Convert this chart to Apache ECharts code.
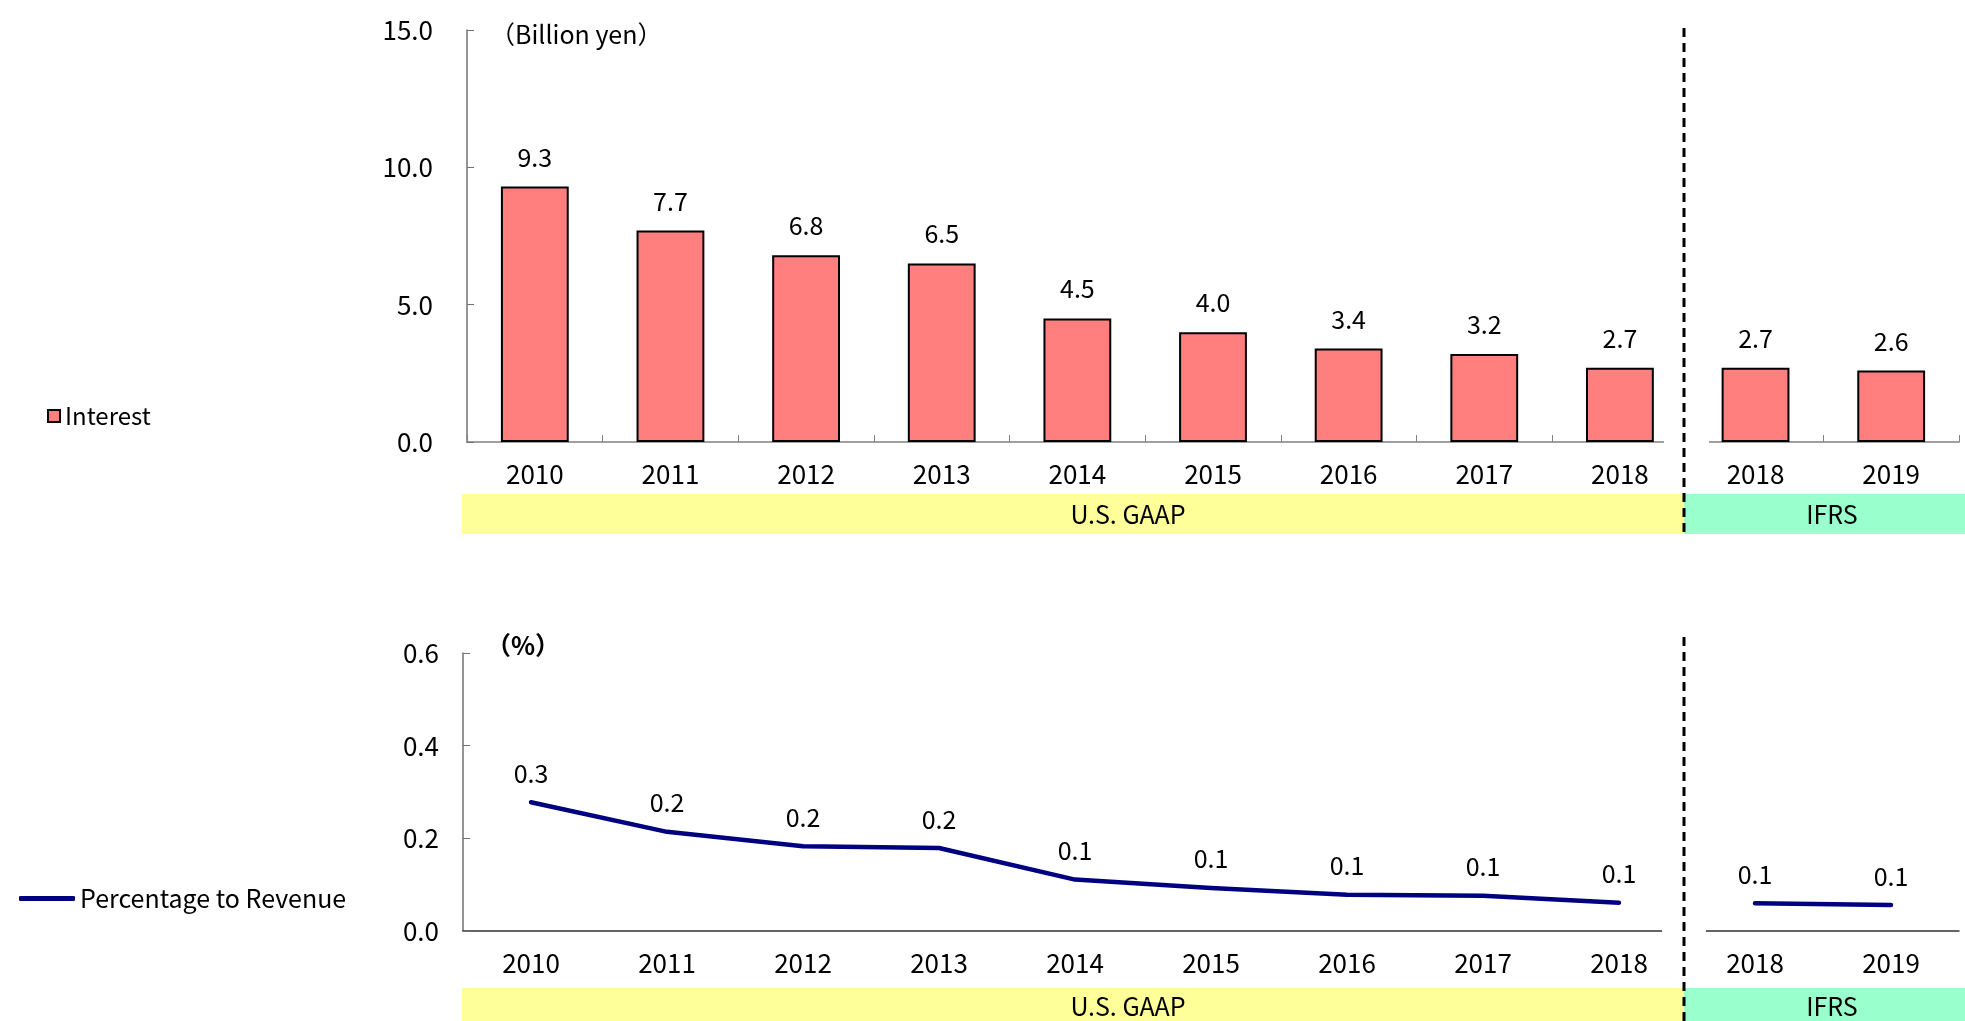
<!DOCTYPE html>
<html>
<head>
<meta charset="utf-8">
<script src="https://cdn.jsdelivr.net/npm/echarts@6/dist/echarts.min.js"></script>
<style>
html,body{margin:0;padding:0;background:#fff;}
#main{width:1965px;height:1021px;}
</style>
</head>
<body>
<div id="main"></div>
<script>
// 年度（左9件は米国基準、右2件はIFRS）
var years = ['2010','2011','2012','2013','2014','2015','2016','2017','2018','2018','2019'];
// 支払利息（十億円）
var interest = [9.3, 7.7, 6.8, 6.5, 4.5, 4.0, 3.4, 3.2, 2.7, 2.7, 2.6];
// 売上高比率（%）
var ratioGaap = [0.278, 0.214, 0.183, 0.179, 0.111, 0.093, 0.078, 0.076, 0.061, null, null];
var ratioIfrs = [null, null, null, null, null, null, null, null, null, 0.060, 0.056];

var FONT = '"Noto Sans CJK JP", "Noto Sans", sans-serif';

var mychart = echarts.init(document.getElementById('main'));
var lineLabel = {show: true, position: 'top', distance: 16, fontFamily: FONT, fontSize: 25, color: '#000',
	formatter: function(p){ return p.value == null ? '' : p.value.toFixed(1); }};
var option = {
	backgroundColor: '#fff',
	animation: false,
	textStyle: {fontFamily: FONT, color: '#000'},
	legend: [
		{
			data: ['Interest'],
			left: 42, top: 399,
			icon: 'rect', itemWidth: 12, itemHeight: 12,
			itemStyle: {borderColor: '#000', borderWidth: 2},
			textStyle: {fontFamily: FONT, fontSize: 24, color: '#000'}
		},
		{
			data: ['Percentage to Revenue'],
			left: 14, top: 881,
			icon: 'roundRect', itemWidth: 56, itemHeight: 5,
			itemStyle: {borderWidth: 0},
			textStyle: {fontFamily: FONT, fontSize: 25, color: '#000'}
		}
	],
	grid: [
		{left: 467, top: 30, width: 1492, height: 412},
		{left: 463, top: 653, width: 1496, height: 278}
	],
	xAxis: [
		{
			type: 'category', gridIndex: 0, data: years,
			axisLine: {lineStyle: {color: '#808080', width: 1.5}},
			axisTick: {show: true, inside: true, length: 7, lineStyle: {color: '#808080'},
				interval: function(i){ return i !== 9; }},
			axisLabel: {fontFamily: FONT, fontSize: 26, color: '#000', margin: 19}
		},
		{
			type: 'category', gridIndex: 1, data: years,
			axisLine: {lineStyle: {color: '#333', width: 1.5}},
			axisTick: {show: false},
			axisLabel: {fontFamily: FONT, fontSize: 26, color: '#000', margin: 19}
		}
	],
	yAxis: [
		{
			type: 'value', gridIndex: 0, min: 0, max: 15, interval: 5,
			axisLine: {show: true, lineStyle: {color: '#707070', width: 1.5}},
			axisTick: {show: true, inside: true, length: 7, lineStyle: {color: '#707070'}},
			splitLine: {show: false},
			axisLabel: {fontFamily: FONT, fontSize: 26, color: '#000', margin: 34,
				formatter: function(v){ return v.toFixed(1); }}
		},
		{
			type: 'value', gridIndex: 1, min: 0, max: 0.6, interval: 0.2,
			axisLine: {show: true, lineStyle: {color: '#707070', width: 1.5}},
			axisTick: {show: true, inside: true, length: 7, lineStyle: {color: '#707070'}},
			splitLine: {show: false},
			axisLabel: {fontFamily: FONT, fontSize: 26, color: '#000', margin: 24,
				formatter: function(v){ return v.toFixed(1); }}
		}
	],
	series: [
		{
			name: 'Interest', type: 'bar', xAxisIndex: 0, yAxisIndex: 0,
			data: interest, barWidth: '50%',
			itemStyle: {color: '#FF7F7F', borderColor: '#000', borderWidth: 2},
			label: {show: true, position: 'top', distance: 17, fontFamily: FONT, fontSize: 25, color: '#000',
				formatter: function(p){ return p.value.toFixed(1); }}
		},
		{
			name: 'Percentage to Revenue', type: 'line', xAxisIndex: 1, yAxisIndex: 1,
			data: ratioGaap, symbol: 'circle', symbolSize: 1, showSymbol: true, connectNulls: false,
			lineStyle: {color: '#000080', width: 4.5, cap: 'round', join: 'round'},
			itemStyle: {color: '#000080'},
			label: lineLabel,
			labelLayout: {hideOverlap: false}
		},
		{
			name: 'Percentage to Revenue', type: 'line', xAxisIndex: 1, yAxisIndex: 1,
			data: ratioIfrs, symbol: 'circle', symbolSize: 1, showSymbol: true, connectNulls: false,
			lineStyle: {color: '#000080', width: 4.5, cap: 'round', join: 'round'},
			itemStyle: {color: '#000080'},
			label: lineLabel
		}
	]
};
mychart.setOption(option);

//---------------- 区切り線・会計基準の帯 ----------------
var p8 = mychart.convertToPixel({xAxisIndex: 0}, 8);
var p9 = mychart.convertToPixel({xAxisIndex: 0}, 9);
var sep = Math.round((p8 + p9) / 2) - 4;
var left0 = 462, right0 = 1965;

var g = [];
// 軸線の切れ目
g.push({type: 'rect', shape: {x: sep - 20, y: 438, width: 45, height: 6}, style: {fill: '#fff'}, z: 50});
g.push({type: 'rect', shape: {x: sep - 22, y: 928, width: 44, height: 6}, style: {fill: '#fff'}, z: 50});
// 帯（上）
g.push({type: 'rect', shape: {x: left0, y: 494, width: sep - left0, height: 40}, style: {fill: '#FFFF99'}, z: 1});
g.push({type: 'rect', shape: {x: sep, y: 494, width: right0 - sep, height: 40}, style: {fill: '#99FFCC'}, z: 1});
g.push({type: 'text', x: 1128, y: 514, style: {text: 'U.S. GAAP', font: '25px ' + FONT, fill: '#000', align: 'center', verticalAlign: 'middle'}, z: 2});
g.push({type: 'text', x: 1832, y: 514, style: {text: 'IFRS', font: '25px ' + FONT, fill: '#000', align: 'center', verticalAlign: 'middle'}, z: 2});
// 帯（下）
g.push({type: 'rect', shape: {x: left0, y: 988, width: sep - left0, height: 40}, style: {fill: '#FFFF99'}, z: 1});
g.push({type: 'rect', shape: {x: sep, y: 988, width: right0 - sep, height: 40}, style: {fill: '#99FFCC'}, z: 1});
g.push({type: 'text', x: 1128, y: 1006, style: {text: 'U.S. GAAP', font: '25px ' + FONT, fill: '#000', align: 'center', verticalAlign: 'middle'}, z: 2});
g.push({type: 'text', x: 1832, y: 1006, style: {text: 'IFRS', font: '25px ' + FONT, fill: '#000', align: 'center', verticalAlign: 'middle'}, z: 2});
// 単位
g.push({type: 'text', x: 490, y: 34, style: {text: '（Billion yen）', font: '25px ' + FONT, fill: '#000', align: 'left', verticalAlign: 'middle'}, z: 2});
g.push({type: 'text', x: 486, y: 645, style: {text: '（%）', font: 'bold 25px ' + FONT, fill: '#000', align: 'left', verticalAlign: 'middle'}, z: 2});
// 破線
g.push({type: 'line', shape: {x1: sep, y1: 28, x2: sep, y2: 534}, style: {stroke: '#000', lineWidth: 3, lineDash: [9, 6]}, z: 60});
g.push({type: 'line', shape: {x1: sep, y1: 637, x2: sep, y2: 1021}, style: {stroke: '#000', lineWidth: 3, lineDash: [9, 6]}, z: 60});

mychart.setOption({graphic: g});
</script>
</body>
</html>
